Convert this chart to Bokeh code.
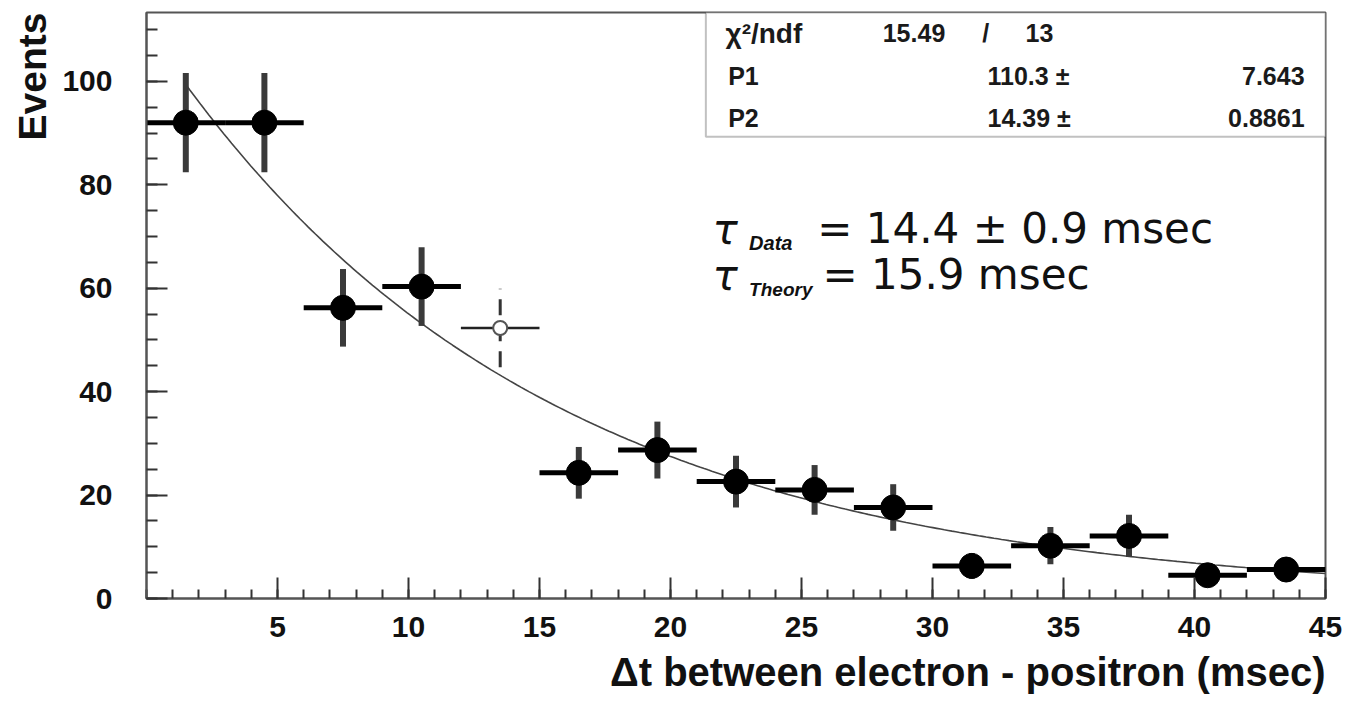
import numpy as np
from bokeh.plotting import figure
from bokeh.models import (Range1d, FixedTicker, Label, BoxAnnotation, ColumnDataSource, Title)
from bokeh.embed import file_html
from bokeh.resources import INLINE

# ---- data ----
bin_centers = [1.5, 4.5, 7.5, 10.5, 16.5, 19.5, 22.5, 25.5, 28.5, 31.5, 34.5, 37.5, 40.5, 43.5]
events = [92.0, 92.0, 56.2, 60.3, 24.3, 28.7, 22.6, 21.0, 17.6, 6.3, 10.2, 12.1, 4.5, 5.6]
errors = [9.6, 9.6, 7.5, 7.6, 5.0, 5.5, 5.0, 4.8, 4.5, 2.5, 3.6, 4.1, 2.1, 2.4]
half_bin = 1.5

faded_x = [13.5]
faded_y = [52.3]
faded_err = [7.6]

x_ticks = [5, 10, 15, 20, 25, 30, 35, 40, 45]
y_ticks = [0, 20, 40, 60, 80, 100]

chi2, ndf = 15.49, 13
p1, p1_err = 110.3, 7.643
p2, p2_err = 14.39, 0.8861
tau_data, tau_data_err = 14.4, 0.9
tau_theory = 15.9
fit_start = 1.5

W, H = 1352, 707
p = figure(width=W, height=H, output_backend="svg", toolbar_location=None,
           x_range=Range1d(0, 45), y_range=Range1d(0, 113.3),
           min_border_left=146, min_border_right=27, min_border_top=12, min_border_bottom=109)
p.background_fill_color = "white"
p.border_fill_color = "white"
p.outline_line_color = "#555555"
p.outline_line_width = 2
p.grid.visible = False

# axes
p.xaxis.ticker = FixedTicker(ticks=x_ticks, minor_ticks=list(range(0, 46)))
p.yaxis.ticker = FixedTicker(ticks=y_ticks, minor_ticks=list(range(0, 115, 5)))
for ax in (p.xaxis[0], p.yaxis[0]):
    ax.axis_line_color = "#555555"
    ax.axis_line_width = 2
    ax.major_tick_line_color = "#333333"
    ax.minor_tick_line_color = "#333333"
    ax.major_tick_line_width = 2
    ax.minor_tick_line_width = 2
    ax.major_tick_out = 0
    ax.minor_tick_out = 0
    ax.major_label_text_font = "Liberation Sans"
    ax.major_label_text_font_style = "bold"
    ax.major_label_text_font_size = "30px"
    ax.major_label_text_color = "#111111"
p.xaxis.major_tick_in = 21
p.xaxis.minor_tick_in = 9
p.yaxis.major_tick_in = 21
p.yaxis.minor_tick_in = 11
p.xaxis.major_label_standoff = 18
p.yaxis.major_label_standoff = 34

# axis titles (ROOT style: at the end of each axis)
p.add_layout(Title(text="Events", align="right", text_font="Liberation Sans",
                   text_font_style="bold", text_font_size="39px", text_color="#111111",
                   standoff=12), "left")
p.add_layout(Title(text="Δt between electron - positron (msec)", align="right",
                   text_font="Liberation Sans", text_font_style="bold",
                   text_font_size="40px", text_color="#111111", standoff=16), "below")

# fit curve
xf = np.linspace(fit_start, 45, 300)
yf = p1 * np.exp(-xf / p2)
p.line(xf, yf, line_color="#444444", line_width=1.6)

# data points
src = ColumnDataSource(dict(
    x=bin_centers, y=events,
    xl=[x - half_bin for x in bin_centers], xr=[x + half_bin for x in bin_centers],
    yl=[y - e for y, e in zip(events, errors)], yh=[y + e for y, e in zip(events, errors)],
))
p.segment(x0="x", y0="yl", x1="x", y1="yh", source=src, line_color="#3a3a3a", line_width=6)
p.segment(x0="xl", y0="y", x1="xr", y1="y", source=src, line_color="black", line_width=5)
p.scatter(x="x", y="y", source=src, size=25, color="black", marker="circle")

# faded point
fsrc = ColumnDataSource(dict(
    x=faded_x, y=faded_y,
    xl=[x - half_bin for x in faded_x], xr=[x + half_bin for x in faded_x],
    yl=[y - e for y, e in zip(faded_y, faded_err)], yh=[y + e for y, e in zip(faded_y, faded_err)],
))
p.segment(x0="x", y0="yl", x1="x", y1="yh", source=fsrc, line_color="#333333", line_width=3,
          line_dash="16 10")
p.segment(x0="xl", y0="y", x1="xr", y1="y", source=fsrc, line_color="#222222", line_width=2.5)
p.scatter(x="x", y="y", source=fsrc, size=14, fill_color="white", line_color="#555555",
          line_width=2, marker="circle")

# stats box
box = BoxAnnotation(left=21.35, right=45, bottom=89.3, top=113.3, fill_color="white",
                    fill_alpha=1, line_color="#333333", line_width=2)
p.add_layout(box)

sfont = "Liberation Sans"
def stat(x, y, t, align="left", size="25px"):
    p.add_layout(Label(x=x, y=y, text=t, text_align=align, text_baseline="middle",
                       text_font=sfont, text_font_style="bold", text_font_size=size,
                       text_color="#1a1a1a"))

stat(22.1, 109.3, "χ²/ndf", size="28px")
stat(28.1, 109.3, f"{chi2:.2f}")
stat(31.9, 109.3, "/")
stat(33.55, 109.3, f"{ndf}")
stat(22.2, 101.0, "P1")
stat(32.1, 101.0, f"{p1:.1f} ±")
stat(44.2, 101.0, f"{p1_err:.3f}", align="right")
stat(22.2, 92.9, "P2")
stat(32.1, 92.9, f"{p2:.2f} ±")
stat(44.2, 92.9, f"{p2_err:.4f}", align="right")

# tau annotations
tfont = "DejaVu Sans"
p.add_layout(Label(x=21.6, y=71.4, text="τ", text_font=tfont, text_font_style="italic",
                   text_font_size="42px", text_baseline="middle", text_color="#111111"))
p.add_layout(Label(x=23.0, y=68.8, text="Data", text_font="Liberation Sans",
                   text_font_style="bold italic", text_font_size="20px",
                   text_baseline="middle", text_color="#111111"))
p.add_layout(Label(x=25.6, y=71.6, text=f"= {tau_data} ± {tau_data_err} msec", text_font=tfont,
                   text_font_size="42px", text_baseline="middle", text_color="#111111"))
p.add_layout(Label(x=21.6, y=62.4, text="τ", text_font=tfont, text_font_style="italic",
                   text_font_size="42px", text_baseline="middle", text_color="#111111"))
p.add_layout(Label(x=23.0, y=59.8, text="Theory", text_font="Liberation Sans",
                   text_font_style="bold italic", text_font_size="19px",
                   text_baseline="middle", text_color="#111111"))
p.add_layout(Label(x=25.8, y=62.6, text=f"= {tau_theory} msec", text_font=tfont,
                   text_font_size="42px", text_baseline="middle", text_color="#111111"))

open("out.html", "w").write(file_html(p, INLINE))
